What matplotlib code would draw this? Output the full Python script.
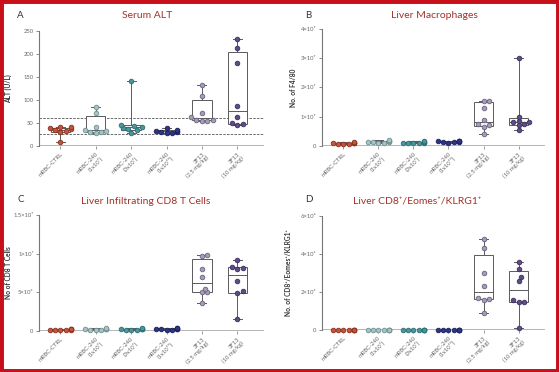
import matplotlib
matplotlib.use('Agg')
import matplotlib.pyplot as plt
from matplotlib.patches import Rectangle
import numpy as np

plt.rcParams['font.family'] = ['Lato', 'DejaVu Sans']

# --- Data ---
GROUPS = ['mRBC-CTRL', 'mRBC-240\n(1x10⁹)', 'mRBC-240\n(3x10⁹)', 'mRBC-240\n(1x10¹⁰)',
          '3F13\n(2.5 mg/kg)', '3F13\n(10 mg/kg)']

alt_vals = [
    [8, 30, 33, 35, 36, 38, 40, 42],
    [28, 30, 31, 33, 35, 40, 72, 85],
    [28, 35, 37, 39, 41, 44, 46, 140],
    [27, 28, 30, 31, 32, 33, 35, 38],
    [55, 55, 56, 57, 62, 72, 108, 132],
    [45, 47, 50, 63, 87, 181, 213, 232],
]

macro_vals = [  # x1e7
    [0.05, 0.06, 0.07, 0.08, 0.09, 0.10, 0.11, 0.12],
    [0.10, 0.11, 0.12, 0.13, 0.14, 0.15, 0.16, 0.20],
    [0.08, 0.09, 0.10, 0.10, 0.11, 0.12, 0.13, 0.15],
    [0.11, 0.12, 0.13, 0.14, 0.15, 0.16, 0.17, 0.18],
    [0.40, 0.65, 0.70, 0.75, 0.90, 1.30, 1.55, 1.55],
    [0.55, 0.70, 0.75, 0.80, 0.82, 0.85, 1.00, 3.00],
]

cd8_vals = [  # x1e6
    [0.10, 0.12, 0.15, 0.18, 0.20, 0.22, 0.25, 0.28],
    [0.15, 0.18, 0.20, 0.22, 0.25, 0.28, 0.30, 0.35],
    [0.15, 0.18, 0.20, 0.22, 0.25, 0.28, 0.32, 0.38],
    [0.18, 0.20, 0.22, 0.25, 0.28, 0.30, 0.35, 0.40],
    [3.6, 5.0, 5.0, 5.5, 7.0, 8.0, 9.7, 9.8],
    [1.5, 4.9, 5.2, 6.5, 8.0, 8.2, 8.3, 9.2],
]

klrg_vals = [  # x1e6
    [0.0] * 8,
    [0.0] * 8,
    [0.0] * 8,
    [0.0] * 8,
    [0.9, 1.6, 1.65, 1.7, 2.3, 3.0, 4.3, 4.8],
    [0.1, 1.5, 1.5, 1.6, 2.6, 2.8, 3.2, 3.6],
]

FACE = ['#c4553c', '#a9c3c4', '#4a969c', '#2e3582', '#a59db2', '#5e4f82']
EDGE = ['#8c2f1d', '#6e9192', '#2d6c72', '#1c2160', '#6c6285', '#3d2f62']

TITLE_COLOR = '#a3322b'
GRAY = '#666666'
BOXC = '#5a5a5a'


def swarm_offsets(vals, ax_w_px, x_range, ax_h_px, y_range, size_px=4.6, max_off=0.3):
    """Simple deterministic beeswarm: spread overlapping points sideways."""
    xs_per_px = x_range / ax_w_px
    ys_per_px = y_range / ax_h_px
    order = np.argsort(vals, kind='stable')
    placed = []
    offs = np.zeros(len(vals))
    step = size_px * xs_per_px * 0.6
    for i in order:
        y = vals[i]
        cands = [0.0]
        for k in range(1, 12):
            cands += [k * step, -k * step]
        chosen = cands[-1]
        for c in cands:
            ok = True
            for (px, py) in placed:
                dx = (c - px) / xs_per_px
                dy = (y - py) / ys_per_px
                if dx * dx + dy * dy < (size_px * 0.95) ** 2:
                    ok = False
                    break
            if ok:
                chosen = c
                break
        chosen = max(-max_off, min(max_off, chosen))
        offs[i] = chosen
        placed.append((chosen, y))
    return offs


def box_stats(vals):
    # Prism-style quartiles (Weibull), whiskers min to max
    q1, med, q3 = np.percentile(vals, [25, 50, 75], method='weibull')
    return dict(med=med, q1=q1, q3=q3, whislo=np.min(vals), whishi=np.max(vals), fliers=[])


def draw_panel(fig, rect, data, scale, ylim, yticks, yticklabels, ylabel, ylab_x):
    ax = fig.add_axes(rect)
    xlim = (-0.6, 5.75)
    ax.set_xlim(*xlim)
    ax.set_ylim(*ylim)

    scaled = [np.array(d, dtype=float) * scale for d in data]

    ax.bxp([box_stats(v) for v in scaled], positions=range(6), widths=0.55,
           showfliers=False, patch_artist=True,
           boxprops=dict(facecolor='white', edgecolor=BOXC, linewidth=0.7),
           medianprops=dict(color=BOXC, linewidth=0.7),
           whiskerprops=dict(color=BOXC, linewidth=0.7),
           capprops=dict(color=BOXC, linewidth=0.7), capwidths=0.25,
           zorder=2)

    fw, fh = fig.get_size_inches() * fig.dpi
    ax_w = rect[2] * fw
    ax_h = rect[3] * fh
    for i, vals in enumerate(scaled):
        offs = swarm_offsets(vals, ax_w, xlim[1] - xlim[0], ax_h, ylim[1] - ylim[0])
        ax.scatter(i + offs, vals, s=11, facecolor=FACE[i], edgecolor=EDGE[i],
                   linewidth=0.6, zorder=3, clip_on=False)

    ax.axhline(0, color='#b0b0b0', linewidth=1.3, zorder=1)
    for s in ['top', 'right', 'bottom']:
        ax.spines[s].set_visible(False)
    ax.spines['left'].set_color('#777777')
    ax.spines['left'].set_linewidth(0.8)

    ax.set_yticks(yticks)
    ax.set_yticklabels(yticklabels)
    ax.set_xticks(range(6))
    ax.set_xticklabels(GROUPS, rotation=45, ha='right', rotation_mode='anchor',
                       linespacing=1.0)
    ax.tick_params(axis='y', labelsize=4.2, colors='#777777', labelcolor=GRAY,
                   length=2.5, width=0.6, pad=1.5)
    ax.tick_params(axis='x', labelsize=4.2, colors='#888888', labelcolor=GRAY,
                   length=2.5, width=0.6, pad=1.5)
    ax.set_ylabel(ylabel, fontsize=4.8, fontweight='bold', color='#333333')
    ax.yaxis.set_label_coords(ylab_x, 0.5)
    ax.patch.set_alpha(0)
    return ax


fig = plt.figure(figsize=(5.59, 3.72), dpi=100)

# Panel A
axA = draw_panel(fig, [0.070, 0.608, 0.402, 0.309], alt_vals, 1.0, (0, 250),
                 [0, 50, 100, 150, 200, 250], ['0', '50', '100', '150', '200', '250'],
                 'ALT (U/L)', -0.12)
axA.axhline(60, color='#555555', linewidth=0.6, linestyle=(0, (3, 1.5)), zorder=1)
axA.axhline(25, color='#555555', linewidth=0.6, linestyle=(0, (3, 1.5)), zorder=1)

# Panel B
draw_panel(fig, [0.576, 0.608, 0.399, 0.314], macro_vals, 1e7, (0, 4e7),
           [0, 1e7, 2e7, 3e7, 4e7], ['0', '1×10⁷', '2×10⁷', '3×10⁷', '4×10⁷'],
           'No. of F4/80', -0.11)

# Panel C
draw_panel(fig, [0.070, 0.110, 0.402, 0.312], cd8_vals, 1e6, (0, 1.5e7),
           [0, 5e6, 1e7, 1.5e7], ['0', '5×10⁶', '1×10⁷', '1.5×10⁷'],
           'No of CD8 T Cells', -0.12)

# Panel D
draw_panel(fig, [0.576, 0.113, 0.399, 0.306], klrg_vals, 1e6, (0, 6e6),
           [0, 2e6, 4e6, 6e6], ['0', '2×10⁶', '4×10⁶', '6×10⁶'],
           'No. of CD8⁺/Eomes⁺/KLRG1⁺', -0.135)

# Titles and panel letters
title_kw = dict(fontsize=7.5, color=TITLE_COLOR, ha='center', va='center')
letter_kw = dict(fontsize=7, color='#333333', ha='left', va='center')
fig.text(147 / 559, 1 - 15 / 372, 'Serum ALT', **title_kw)
fig.text(434 / 559, 1 - 15 / 372, 'Liver Macrophages', **title_kw)
fig.text(146 / 559, 1 - 201 / 372, 'Liver Infiltrating CD8 T Cells', **title_kw)
fig.text(417 / 559, 1 - 201 / 372, 'Liver CD8⁺/Eomes⁺/KLRG1⁺', **title_kw)
fig.text(17 / 559, 1 - 15 / 372, 'A', **letter_kw)
fig.text(305 / 559, 1 - 15 / 372, 'B', **letter_kw)
fig.text(17 / 559, 1 - 200 / 372, 'C', **letter_kw)
fig.text(305 / 559, 1 - 200 / 372, 'D', **letter_kw)

# Red frame around the figure
fig.patches.append(Rectangle((0, 0), 1, 1, transform=fig.transFigure, fill=False,
                             edgecolor='#c8101a', linewidth=5, zorder=10))

fig.savefig('out.png', dpi=100)
